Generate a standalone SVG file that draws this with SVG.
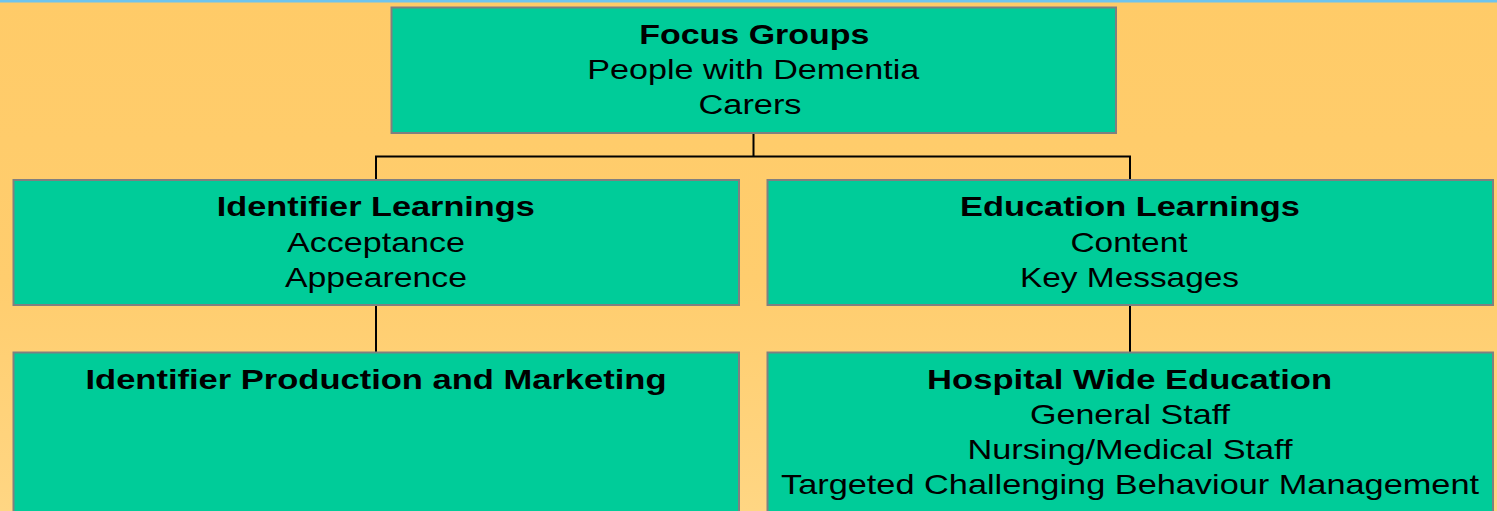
<svg xmlns="http://www.w3.org/2000/svg" width="1497" height="511" viewBox="0 0 1497 511">
<style>
.box{fill:#00CC99;stroke:#808080;stroke-width:2}
.conn{fill:none;stroke:#000;stroke-width:2}
text{font-family:"Liberation Sans",Arial,sans-serif;fill:#000;text-anchor:middle}
.b{font-weight:bold;font-size:28px}
.r{font-size:28px}
.tb{font-weight:bold;font-size:27px}
.tr{font-size:27px}
</style>
<defs>
<linearGradient id="bg" x1="0" y1="0" x2="0" y2="1">
<stop offset="0" stop-color="#FFCB68"/>
<stop offset="0.55" stop-color="#FFCD6E"/>
<stop offset="1" stop-color="#FFD683"/>
</linearGradient>
</defs>
<rect x="0" y="0" width="1497" height="511" fill="url(#bg)"/>
<rect x="0" y="0" width="1497" height="2.5" fill="#6EC4EE"/>
<g id="connectors">
<path class="conn" d="M753.5 133 V156.5 M376 180 V156.5 H1130 V180"/>
<path class="conn" d="M376 305 V352"/>
<path class="conn" d="M1130 305 V352"/>
</g>
<g id="focus-groups">
<rect class="box" x="391.5" y="7.5" width="724.5" height="125.5"/>
<text class="tb" x="754.3" y="43.7" textLength="230" lengthAdjust="spacingAndGlyphs">Focus Groups</text>
<text class="tr" x="753.3" y="79.3" textLength="332" lengthAdjust="spacingAndGlyphs">People with Dementia</text>
<text class="tr" x="750" y="114" textLength="103" lengthAdjust="spacingAndGlyphs">Carers</text>
</g>
<g id="identifier-learnings">
<rect class="box" x="13.5" y="180" width="725.5" height="125"/>
<text class="b" x="375.8" y="216" textLength="318" lengthAdjust="spacingAndGlyphs">Identifier Learnings</text>
<text class="r" x="376" y="251.5" textLength="178" lengthAdjust="spacingAndGlyphs">Acceptance</text>
<text class="r" x="376" y="286.5" textLength="182" lengthAdjust="spacingAndGlyphs">Appearence</text>
</g>
<g id="education-learnings">
<rect class="box" x="767.5" y="180" width="725.5" height="125"/>
<text class="b" x="1130" y="216" textLength="340" lengthAdjust="spacingAndGlyphs">Education Learnings</text>
<text class="r" x="1129" y="251.5" textLength="117" lengthAdjust="spacingAndGlyphs">Content</text>
<text class="r" x="1129.5" y="286.5" textLength="219" lengthAdjust="spacingAndGlyphs">Key Messages</text>
</g>
<g id="identifier-production">
<rect class="box" x="13.5" y="352.5" width="725.5" height="170"/>
<text class="b" x="376" y="389" textLength="581" lengthAdjust="spacingAndGlyphs">Identifier Production and Marketing</text>
</g>
<g id="hospital-wide-education">
<rect class="box" x="767.5" y="352.5" width="725.5" height="170"/>
<text class="b" x="1129.6" y="389" textLength="405" lengthAdjust="spacingAndGlyphs">Hospital Wide Education</text>
<text class="r" x="1130" y="424" textLength="200" lengthAdjust="spacingAndGlyphs">General Staff</text>
<text class="r" x="1130" y="459" textLength="325" lengthAdjust="spacingAndGlyphs">Nursing/Medical Staff</text>
<text class="r" x="1130" y="494" textLength="698" lengthAdjust="spacingAndGlyphs">Targeted Challenging Behaviour Management</text>
</g>
</svg>
